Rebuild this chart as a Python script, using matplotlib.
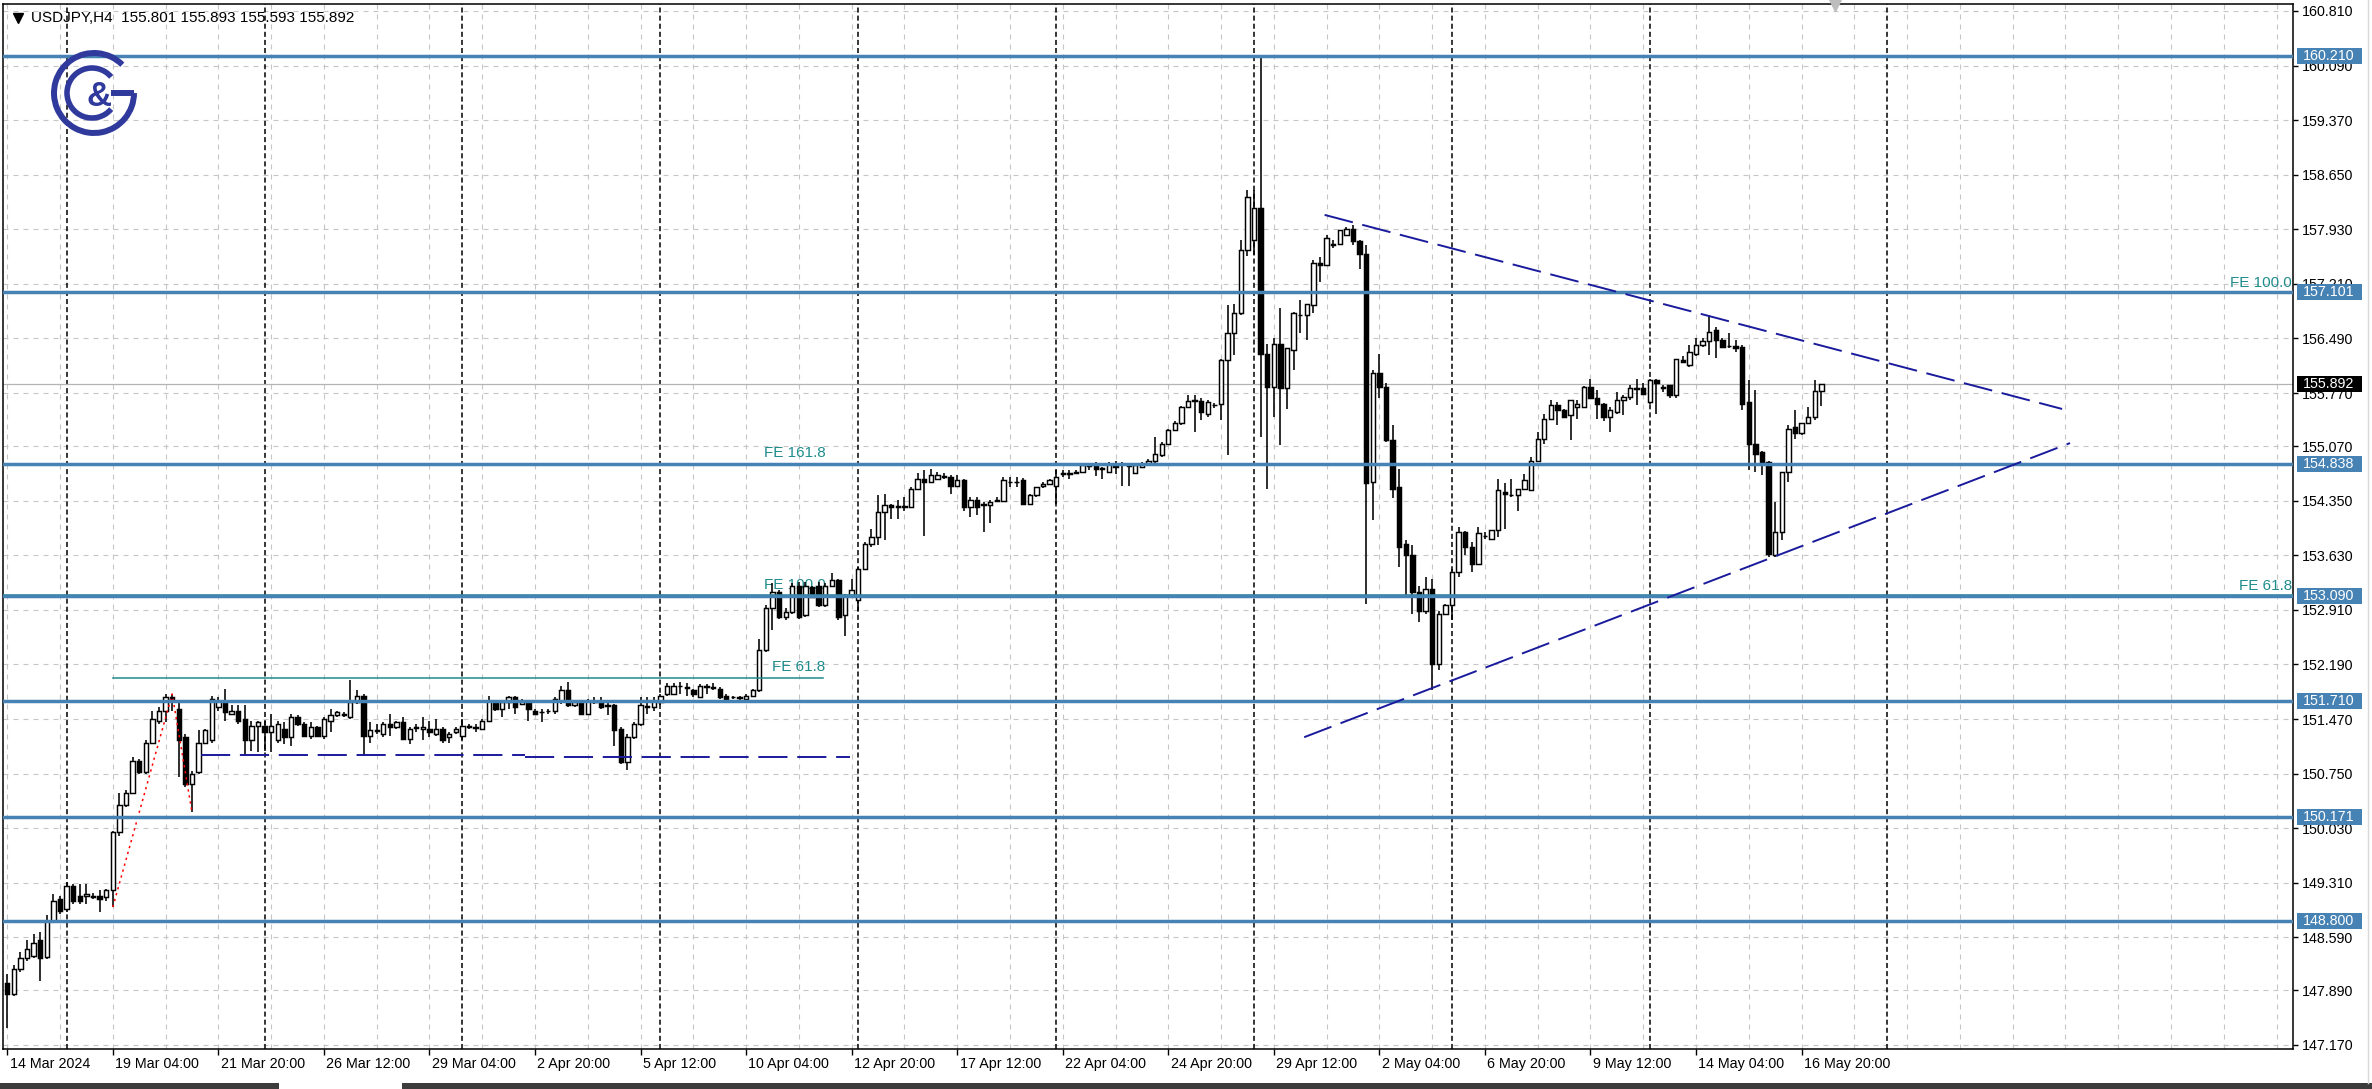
import numpy as np
import matplotlib.pyplot as plt
from matplotlib.patches import Arc, Rectangle

W, H, DPI = 2372, 1089, 100
plt.rcParams['font.family'] = ['Liberation Sans', 'DejaVu Sans']

# USDJPY H4 candles, bar 0 = 14 Mar 2024 12:00 ... bar 275 = 17 May 2024 08:00
opens = [
    147.99, 147.84, 148.17, 148.32, 148.35, 148.55, 148.33, 148.81, 149.10, 148.96,
    149.27, 149.14, 149.13, 149.14, 149.14, 149.12, 149.21, 149.98, 150.33, 150.50,
    150.92, 150.77, 151.16, 151.45, 151.58, 151.76, 151.60, 151.23, 150.61, 150.77,
    151.16, 151.19, 151.63, 151.69, 151.54, 151.58, 151.47, 151.19, 151.38, 151.38,
    151.30, 151.19,
    151.34, 151.23, 151.49, 151.41, 151.25, 151.36, 151.25, 151.45, 151.52, 151.52,
    151.49, 151.69, 151.78, 151.25, 151.31, 151.27, 151.41, 151.36, 151.43, 151.21,
    151.35, 151.34, 151.34, 151.27, 151.34, 151.23, 151.30, 151.25, 151.37, 151.35,
    151.34, 151.45, 151.69, 151.60, 151.69, 151.76, 151.67, 151.69, 151.58, 151.56,
    151.57, 151.58, 151.71, 151.85, 151.65, 151.69, 151.54, 151.69, 151.71, 151.65,
    151.65, 151.34, 150.90, 151.23, 151.41, 151.63, 151.63,
    151.70, 151.80, 151.80, 151.91, 151.89, 151.85, 151.76, 151.90, 151.89, 151.87,
    151.78, 151.76, 151.76, 151.74, 151.78, 151.85, 152.38, 152.93, 153.15, 152.82,
    152.88, 153.23, 152.84, 153.21, 153.23, 152.97, 153.23, 153.30, 152.84, 153.10,
    153.04, 153.45, 153.78, 153.87, 154.20, 154.29, 154.27, 154.28, 154.27, 154.51,
    154.64, 154.60, 154.64, 154.67, 154.66, 154.55,
    154.62, 154.27, 154.36, 154.30, 154.29, 154.35, 154.35, 154.60, 154.59, 154.62,
    154.31, 154.42, 154.55, 154.57, 154.55, 154.70, 154.70, 154.72, 154.73, 154.82,
    154.84, 154.77, 154.73, 154.84, 154.84, 154.82, 154.71, 154.79, 154.84, 154.88,
    154.95, 155.10, 155.28, 155.37, 155.59, 155.67, 155.67, 155.50, 155.61, 155.63,
    156.20, 156.56, 156.82, 157.66, 157.79, 158.21, 156.29, 155.85, 156.42, 155.83,
    156.34, 156.80, 156.80, 156.93, 157.48, 157.46, 157.74, 157.74,
    157.85, 157.94, 157.77, 157.61, 154.60, 156.03, 155.85, 155.15, 154.53, 153.78,
    153.63, 153.15, 152.90, 153.19, 152.20, 152.86, 152.97, 153.41, 153.94, 153.74,
    153.52, 153.88, 153.85, 153.96, 154.47, 154.42, 154.42, 154.51, 154.49, 154.88,
    155.17, 155.43, 155.61, 155.54, 155.48, 155.59, 155.59, 155.85, 155.70, 155.63,
    155.46, 155.52, 155.68, 155.72, 155.82, 155.83, 155.65, 155.94, 155.83, 155.87,
    155.74, 156.21, 156.14, 156.29, 156.40, 156.45, 156.60, 156.47, 156.39, 156.39,
    156.38, 155.65, 155.10, 154.99, 154.86, 153.63, 153.94, 154.73, 155.32, 155.24,
    155.37, 155.46, 155.801,
]
highs = [
    148.11, 148.22, 148.39, 148.55, 148.63, 148.66, 148.88, 149.16, 149.14, 149.32,
    149.30, 149.29, 149.29, 149.18, 149.21, 149.23, 149.99, 150.50, 150.53, 150.97,
    150.94, 151.19, 151.58, 151.63, 151.80, 151.80, 151.71, 151.27, 150.79, 151.32,
    151.34, 151.78, 151.76, 151.87, 151.65, 151.65, 151.65, 151.45, 151.45, 151.45,
    151.54, 151.45,
    151.43, 151.54, 151.52, 151.43, 151.43, 151.38, 151.49, 151.60, 151.58, 151.56,
    151.98, 151.85, 151.80, 151.43, 151.41, 151.43, 151.54, 151.45, 151.49, 151.36,
    151.41, 151.49, 151.45, 151.47, 151.36, 151.30, 151.36, 151.47, 151.41, 151.41,
    151.47, 151.78, 151.71, 151.71, 151.78, 151.78, 151.74, 151.71, 151.60, 151.60,
    151.60, 151.76, 151.91, 151.96, 151.71, 151.71, 151.74, 151.76, 151.76, 151.71,
    151.67, 151.36, 151.27, 151.43, 151.76, 151.76, 151.76,
    151.80, 151.94, 151.95, 151.96, 151.94, 151.87, 151.93, 151.93, 151.94, 151.89,
    151.80, 151.78, 151.78, 151.80, 151.87, 152.53, 152.97, 153.26, 153.17, 152.93,
    153.26, 153.28, 153.28, 153.23, 153.28, 153.26, 153.39, 153.32, 153.12, 153.32,
    153.48, 153.81, 153.98, 154.42, 154.44, 154.31, 154.36, 154.40, 154.53, 154.71,
    154.75, 154.77, 154.73, 154.71, 154.69, 154.69,
    154.64, 154.40, 154.40, 154.33, 154.36, 154.40, 154.66, 154.66, 154.66, 154.65,
    154.44, 154.53, 154.60, 154.64, 154.75, 154.75, 154.75, 154.76, 154.84, 154.84,
    154.86, 154.80, 154.86, 154.87, 154.86, 154.84, 154.82, 154.86, 154.90, 155.19,
    155.12, 155.30, 155.40, 155.60, 155.74, 155.74, 155.70, 155.68, 155.64, 156.22,
    156.93, 156.95, 157.79, 158.45, 158.45, 160.21, 156.42, 156.49, 156.89, 156.36,
    156.84, 157.00, 156.95, 157.52, 157.57, 157.85, 157.79, 157.92,
    157.96, 157.99, 157.79, 157.72, 156.07, 156.29, 155.90, 155.35, 154.77, 153.83,
    153.76, 153.23, 153.34, 153.32, 152.90, 152.99, 153.45, 154.00, 153.95, 153.80,
    154.00, 153.94, 153.96, 154.64, 154.58, 154.64, 154.50, 154.70, 154.93, 155.26,
    155.50, 155.68, 155.65, 155.56, 155.68, 155.68, 155.86, 155.96, 155.81, 155.64,
    155.59, 155.79, 155.74, 155.87, 155.96, 155.90, 155.96, 155.96, 155.87, 155.88,
    156.22, 156.26, 156.40, 156.49, 156.49, 156.80, 156.64, 156.50, 156.56, 156.47,
    156.40, 155.94, 155.81, 155.00, 154.87, 154.33, 154.73, 155.35, 155.54, 155.38,
    155.59, 155.94, 155.893,
]
lows = [
    147.40, 147.82, 148.13, 148.28, 148.32, 148.02, 148.30, 148.79, 148.90, 148.92,
    149.03, 149.03, 149.03, 149.10, 148.92, 149.07, 148.99, 149.93, 150.31, 150.48,
    150.75, 150.75, 151.14, 151.41, 151.43, 151.58, 150.70, 150.57, 150.24, 150.75,
    151.14, 151.16, 151.58, 151.45, 151.52, 151.41, 150.99, 151.05, 151.03, 151.05,
    151.03, 151.16,
    151.14, 151.12, 151.38, 151.23, 151.21, 151.23, 151.21, 151.30, 151.49, 151.49,
    151.47, 151.67, 150.99, 151.16, 151.27, 151.23, 151.25, 151.34, 151.19, 151.14,
    151.30, 151.19, 151.23, 151.25, 151.16, 151.16, 151.27, 151.19, 151.34, 151.30,
    151.32, 151.43, 151.58, 151.49, 151.60, 151.54, 151.65, 151.45, 151.52, 151.43,
    151.54, 151.54, 151.67, 151.63, 151.63, 151.52, 151.52, 151.67, 151.60, 151.52,
    151.12, 150.88, 150.80, 151.21, 151.38, 151.54, 151.58,
    151.66, 151.78, 151.79, 151.80, 151.78, 151.76, 151.75, 151.80, 151.85, 151.74,
    151.72, 151.74, 151.72, 151.72, 151.76, 151.83, 152.35, 152.64, 152.79, 152.77,
    152.86, 152.79, 152.82, 153.06, 152.95, 152.95, 153.21, 152.77, 152.57, 153.08,
    152.90, 153.43, 153.74, 153.76, 153.83, 154.11, 154.11, 154.22, 154.25, 154.49,
    153.89, 154.58, 154.62, 154.64, 154.44, 154.53,
    154.22, 154.13, 154.16, 153.94, 154.05, 154.33, 154.34, 154.53, 154.53, 154.31,
    154.29, 154.40, 154.52, 154.56, 154.31, 154.66, 154.64, 154.70, 154.72, 154.75,
    154.68, 154.64, 154.72, 154.70, 154.55, 154.55, 154.70, 154.78, 154.83, 154.84,
    154.93, 155.09, 155.27, 155.35, 155.57, 155.25, 155.41, 155.45, 155.57, 155.41,
    154.95, 156.27, 156.80, 157.58, 157.59, 155.19, 154.51, 155.45, 155.08, 155.56,
    156.07, 156.56, 156.47, 156.82, 157.24, 157.44, 157.68, 157.73,
    157.84, 157.72, 157.41, 152.99, 154.09, 155.70, 155.13, 154.38, 153.48, 153.08,
    152.86, 152.75, 152.85, 151.85, 152.11, 152.84, 152.77, 153.34, 153.63, 153.41,
    153.50, 153.85, 153.84, 153.87, 153.98, 154.40, 154.22, 154.49, 154.48, 154.87,
    155.10, 155.42, 155.35, 155.46, 155.15, 155.43, 155.58, 155.69, 155.43, 155.40,
    155.26, 155.50, 155.48, 155.68, 155.61, 155.74, 155.63, 155.50, 155.79, 155.70,
    155.70, 156.17, 156.11, 156.26, 156.38, 156.27, 156.23, 156.38, 156.37, 156.31,
    155.54, 154.75, 154.73, 154.69, 153.61, 153.61, 153.83, 154.60, 155.17, 155.21,
    155.36, 155.41, 155.593,
]
closes = [
    147.84, 148.17, 148.32, 148.44, 148.52, 148.32, 148.81, 149.07, 148.94, 149.27,
    149.07, 149.07, 149.16, 149.12, 149.10, 149.21, 149.98, 150.33, 150.50, 150.92,
    150.77, 151.16, 151.47, 151.58, 151.76, 151.71, 151.19, 150.61, 150.75, 151.16,
    151.32, 151.74, 151.71, 151.56, 151.58, 151.45, 151.19, 151.38, 151.43, 151.30,
    151.38, 151.41,
    151.23, 151.49, 151.41, 151.25, 151.36, 151.25, 151.47, 151.52, 151.56, 151.54,
    151.69, 151.78, 151.25, 151.32, 151.32, 151.41, 151.36, 151.43, 151.21, 151.34,
    151.36, 151.36, 151.30, 151.34, 151.19, 151.27, 151.34, 151.38, 151.38, 151.36,
    151.45, 151.71, 151.60, 151.69, 151.76, 151.63, 151.71, 151.60, 151.54, 151.56,
    151.58, 151.74, 151.85, 151.65, 151.69, 151.54, 151.71, 151.71, 151.63, 151.64,
    151.32, 150.90, 151.23, 151.41, 151.65, 151.64, 151.71,
    151.78, 151.91, 151.91, 151.90, 151.88, 151.80, 151.91, 151.89, 151.88, 151.76,
    151.74, 151.755, 151.745, 151.78, 151.85, 152.38, 152.93, 153.15, 152.82, 152.88,
    153.23, 152.82, 153.23, 153.08, 152.97, 153.23, 153.30, 152.82, 153.10, 153.17,
    153.45, 153.78, 153.87, 154.20, 154.29, 154.27, 154.28, 154.27, 154.51, 154.64,
    154.60, 154.69, 154.69, 154.66, 154.55, 154.62,
    154.27, 154.36, 154.27, 154.29, 154.33, 154.36, 154.62, 154.60, 154.60, 154.31,
    154.42, 154.53, 154.57, 154.62, 154.66, 154.71, 154.71, 154.73, 154.82, 154.81,
    154.77, 154.78, 154.84, 154.79, 154.84, 154.81, 154.82, 154.84, 154.88, 154.97,
    155.10, 155.28, 155.37, 155.59, 155.67, 155.68, 155.52, 155.65, 155.61, 156.20,
    156.56, 156.82, 157.66, 158.36, 158.21, 156.29, 155.85, 156.42, 155.83, 156.36,
    156.82, 156.80, 156.95, 157.48, 157.46, 157.81, 157.72, 157.92,
    157.94, 157.77, 157.61, 154.58, 156.03, 155.85, 155.15, 154.51, 153.74, 153.63,
    153.15, 152.90, 153.19, 152.20, 152.86, 152.97, 153.41, 153.94, 153.74, 153.52,
    153.92, 153.89, 153.96, 154.49, 154.44, 154.43, 154.51, 154.62, 154.88, 155.17,
    155.43, 155.61, 155.54, 155.46, 155.68, 155.63, 155.85, 155.70, 155.63, 155.46,
    155.54, 155.68, 155.72, 155.83, 155.83, 155.76, 155.94, 155.90, 155.85, 155.74,
    156.22, 156.18, 156.31, 156.40, 156.45, 156.58, 156.47, 156.38, 156.39, 156.36,
    155.63, 155.10, 154.97, 154.84, 153.65, 153.94, 154.73, 155.30, 155.24, 155.37,
    155.46, 155.80, 155.892,
]

# axis labels
xtick_bars = [0, 16, 32, 48, 64, 80, 96, 112, 128, 144, 160, 176, 192, 208, 224, 240, 256, 272]
xtick_labels = ['14 Mar 2024', '19 Mar 04:00', '21 Mar 20:00', '26 Mar 12:00', '29 Mar 04:00',
                '2 Apr 20:00', '5 Apr 12:00', '10 Apr 04:00', '12 Apr 20:00', '17 Apr 12:00',
                '22 Apr 04:00', '24 Apr 20:00', '29 Apr 12:00', '2 May 04:00', '6 May 20:00',
                '9 May 12:00', '14 May 04:00', '16 May 20:00']
ytick_values = [160.810, 160.090, 159.370, 158.650, 157.930, 157.210, 156.490, 155.770,
                155.070, 154.350, 153.630, 152.910, 152.190, 151.470, 150.750, 150.030,
                149.310, 148.590, 147.890, 147.170]
week_separators = [9, 39, 69, 99, 129, 159, 189, 219, 249, 285]

# chart objects
levels = [160.210, 157.101, 154.838, 153.090, 151.710, 150.171, 148.800]
bid = 155.892
tri_upper_bars, tri_upper_prices = [199.7, 311.5], [158.12, 155.56]
tri_lower_bars, tri_lower_prices = [196.6, 312.7], [151.23, 155.11]
support_bars = [29.4, 78.5, 127.7]
support_prices = [150.99, 150.97]
fe_point_bars = [16, 25, 28]
fe_point_prices = [148.99, 151.80, 150.24]
fe_left_names = ['FE 61.8', 'FE 100.0', 'FE 161.8']
fe_left_prices = [152.01, 153.09, 154.84]
fe_left_span = [16, 123.6]
fe_right_names = ['FE 100.0', 'FE 61.8']
fe_right_prices = [157.101, 153.105]

BLUE = '#4682b4'
TEAL = '#1f8c8c'
NAVY = '#1a1a9c'
GRID = '#c6c6c6'

fig = plt.figure(figsize=(W / DPI, H / DPI), dpi=DPI, facecolor='white')
ax = fig.add_axes([3 / W, 40 / H, 2290 / W, 1045 / H])
ax.set_xlim(-0.65, 346.5)
ax.set_ylim(147.117, 160.902)
PX = 13.785 / 1045  # price units per pixel

# grid
for v in ytick_values:
    ax.axhline(v, color=GRID, lw=0.8, dashes=(4.5, 4.5), zorder=0.5)
for b in range(0, 347, 8):
    ax.axvline(b, color=GRID, lw=0.8, dashes=(4.5, 4.5), zorder=0.5)
for b in week_separators:
    ax.axvline(b, color='black', lw=1.1, dashes=(3.3, 2.0), zorder=1)

# bid line
ax.axhline(bid, color='#b4b4b4', lw=0.9, zorder=1.5)

# Fibonacci expansion labels sit under the candles
for name, p in zip(fe_left_names, fe_left_prices):
    ax.text(fe_left_span[1] + 0.4, p + 4 * PX, name, color=TEAL, fontsize=11,
            ha='right', va='bottom', zorder=2)

# candles
o, hi, lo, c = (np.array(a, dtype=float) for a in (opens, highs, lows, closes))
hi = np.maximum(hi, np.maximum(o, c))
lo = np.minimum(lo, np.minimum(o, c))
x = np.arange(len(o))
up = c >= o
ax.vlines(x, lo, hi, color='black', lw=1.15, zorder=3)
bot = np.minimum(o, c)
hgt = np.abs(c - o)
ax.bar(x[up], hgt[up], bottom=bot[up], width=0.66, color='white', edgecolor='black', lw=1.05, zorder=3.2)
ax.bar(x[~up], hgt[~up], bottom=bot[~up], width=0.66, color='black', edgecolor='black', lw=1.05, zorder=3.2)

# Fibonacci expansion lines
for p in fe_right_prices:
    ax.axhline(p, color=TEAL, lw=1.1, zorder=3.6)
for p in fe_left_prices:
    ax.plot(fe_left_span, [p, p], color=TEAL, lw=1.1, zorder=3.6)
ax.plot(fe_point_bars, fe_point_prices, color='red', lw=1.1, dashes=(1.5, 2.5), zorder=4)

# horizontal levels
for p in levels:
    ax.axhline(p, color=BLUE, lw=2.5, zorder=4)

for name, p in zip(fe_right_names, fe_right_prices):
    ax.text(1 - 1 / 2290, p + 2 * PX, name, transform=ax.get_yaxis_transform(),
            color=TEAL, fontsize=11, ha='right', va='bottom', zorder=6)

# triangle and support
ax.plot(tri_upper_bars, tri_upper_prices, color=NAVY, lw=1.4, dashes=(15, 5), zorder=4.5)
ax.plot(tri_lower_bars, tri_lower_prices, color=NAVY, lw=1.4, dashes=(15, 5), zorder=4.5)
ax.plot(support_bars[:2], [support_prices[0]] * 2, color=NAVY, lw=1.4, dashes=(15, 5), zorder=4.5)
ax.plot(support_bars[1:], [support_prices[1]] * 2, color=NAVY, lw=1.4, dashes=(15, 5), zorder=4.5)

# axes frame and ticks
for s in ax.spines.values():
    s.set_color('black')
    s.set_linewidth(1.1)
ax.set_yticks(ytick_values)
ax.set_yticklabels([f'{v:.3f}' for v in ytick_values])
ax.tick_params(axis='y', left=False, right=True, labelleft=False, labelright=True,
               length=3.6, width=1, pad=3.0, labelsize=10.3, colors='black')
ax.set_xticks(xtick_bars)
ax.set_xticklabels([])
ax.tick_params(axis='x', length=4.3, width=1, colors='black')
for b, lab in zip(xtick_bars, xtick_labels):
    ax.text(b + 0.35, -(1064 - 1049) / 1045, lab, transform=ax.get_xaxis_transform(),
            ha='left', va='center', fontsize=10.3, clip_on=False)

# right axis price boxes
ytr = ax.get_yaxis_transform()
box_x0 = 1 + 4 / 2290
box_w = 65 / 2290
for p in levels:
    ax.add_patch(Rectangle((box_x0, p - 8 * PX), box_w, 16 * PX, transform=ytr,
                           facecolor=BLUE, edgecolor='none', clip_on=False, zorder=7))
    ax.text(box_x0 + 6 / 2290, p, f'{p:.3f}', transform=ytr, color='white',
            fontsize=10.3, ha='left', va='center', clip_on=False, zorder=8)
ax.add_patch(Rectangle((box_x0, bid - 8 * PX), box_w, 16 * PX, transform=ytr,
                       facecolor='black', edgecolor='none', clip_on=False, zorder=7))
ax.text(box_x0 + 6 / 2290, bid, f'{bid:.3f}', transform=ytr, color='white',
        fontsize=10.3, ha='left', va='center', clip_on=False, zorder=8)

# overlay in pixel coordinates: header, logo, window strip
ov = fig.add_axes([0, 0, 1, 1], zorder=10)
ov.set_xlim(0, W)
ov.set_ylim(H, 0)
ov.axis('off')
ov.patch.set_alpha(0)
ov.plot(18, 18, marker='v', ms=7, color='black')
ov.text(31, 18, f'USDJPY,H4  {opens[-1]:.3f} {highs[-1]:.3f} {lows[-1]:.3f} {closes[-1]:.3f}',
        fontsize=11, va='center', ha='left')
ov.plot(1835, 5, marker='v', ms=9, color='#bdbdbd')

logo = '#303a9c'
ov.add_patch(Arc((94, 93), 80, 80, theta1=0, theta2=315, lw=4.3, color=logo))
ov.plot([111, 134], [93, 93], color=logo, lw=4.3, solid_capstyle='butt')
ov.add_patch(Arc((92, 93), 50, 50, theta1=40, theta2=320, lw=4.0, color=logo))
ov.text(99, 97, '&', fontsize=25, fontweight='bold', color=logo, ha='center', va='center')

ov.add_patch(Rectangle((0, 1083), W, 6, facecolor='#3c3c3c', edgecolor='none'))
ov.add_patch(Rectangle((279, 1083), 123, 6, facecolor='white', edgecolor='none'))
ov.plot([2368, 2368], [0, 1083], color='#d8d8d8', lw=1)

fig.savefig('out.png', dpi=DPI)
